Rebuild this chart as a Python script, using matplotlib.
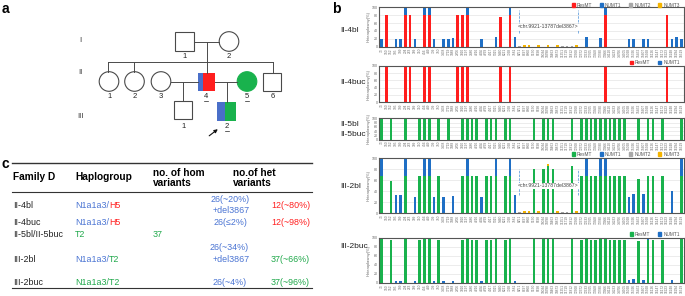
import numpy as np
import matplotlib
matplotlib.use('Agg')
import matplotlib.pyplot as plt
import matplotlib.patches as mpatches

plt.rcParams['font.family'] = ['Liberation Sans', 'DejaVu Sans']

# ---- data ----------------------------------------------------------
positions = ['73', '150', '152', '195', '199', '204', '263', '309', '310', '456',
             '489', '709', '750', '1438', '1719', '1888', '2706', '3010', '3197', '3480',
             '4216', '4336', '4769', '4917', '5315', '5460', '6221', '7028', '7581', '8251',
             '8697', '8860', '9150', '9698', '10034', '10398', '10463', '10873', '11251', '11719',
             '11812', '12308', '12372', '12633', '12705', '13368', '13780', '13966', '14110', '14233',
             '14766', '14905', '15028', '15326', '15452', '15607', '15928', '16126', '16147', '16172',
             '16223', '16248', '16294', '16519']

# II-4bl
bl4_res_idx = [1, 5, 6, 9, 10, 16, 17, 18, 25, 27, 47, 60]
bl4_res_val = [80, 80, 80, 80, 80, 80, 80, 80, 76, 80, 80, 80]
bl4_n1_idx = [0, 3, 4, 5, 7, 9, 10, 11, 13, 14, 15, 18, 21, 24, 27, 28, 43, 46, 47, 52, 53, 55, 56, 61, 62, 63]
bl4_n1_val = [20, 20, 20, 20, 20, 20, 20, 20, 20, 20, 22, 20, 20, 24, 20, 24, 24, 22, 20, 20, 20, 20, 20, 20, 24, 20]
bl4_n2_idx = [29, 38, 39, 40]
bl4_n2_val = [2, 2, 2, 2]
bl4_n3_idx = [30, 31, 33, 35, 37, 41]
bl4_n3_val = [5, 5, 5, 5, 4, 4]

# II-4buc
buc4_res_idx = bl4_res_idx
buc4_res_val = [98, 98, 98, 98, 98, 98, 98, 98, 98, 98, 98, 98]
buc4_n1_idx = [1, 5, 6, 9, 10, 16, 17, 18, 21, 24, 25, 27, 28, 47, 60]
buc4_n1_val = [2, 2, 2, 2, 2, 2, 2, 2, 2, 2, 2, 2, 2, 2, 2]

# II-5bl / II-5buc
t2_idx = [0, 2, 5, 8, 9, 10, 12, 14, 17, 18, 19, 20, 22, 23, 24, 26, 27, 32, 34, 35, 36, 40,
          42, 43, 44, 45, 46, 47, 48, 49, 50, 51, 54, 56, 57, 59, 63]
t2_val = [100] * 37

# III-2bl
bl3_res_idx = [0, 2, 5, 8, 9, 10, 12, 17, 18, 19, 20, 22, 23, 24, 26, 27, 32, 34, 35, 36, 40,
               42, 43, 44, 45, 46, 47, 48, 49, 50, 51, 54, 56, 57, 59, 63]
bl3_res_val = [68, 58, 68, 68, 68, 68, 68, 68, 68, 68, 68, 68, 68, 68, 67, 68, 80, 80, 85, 80, 85,
               68, 68, 68, 68, 68, 68, 68, 68, 68, 68, 62, 68, 68, 68, 68]
bl3_n1_idx = [0, 3, 4, 5, 7, 9, 10, 11, 13, 15, 18, 21, 24, 27, 28, 43, 46, 47, 52, 53, 55, 61, 63]
bl3_n1_val = [32, 33, 33, 32, 30, 32, 32, 30, 29, 31, 32, 30, 32, 32, 33, 32, 32, 32, 29, 34, 34, 40, 32]
bl3_n2_idx = [29, 38, 39]
bl3_n2_val = [2, 2, 2]
bl3_n3_idx = [30, 31, 33, 35, 37, 41]
bl3_n3_val = [5, 5, 5, 4, 5, 4]

# III-2buc
buc3_res_idx = bl3_res_idx
buc3_res_val = [97, 96, 97, 96, 97, 97, 95, 96, 97, 96, 95, 96, 96, 97, 95, 97, 100, 100, 100, 100, 100,
                96, 97, 95, 95, 97, 97, 95, 95, 95, 95, 92, 94, 94, 94, 97]
buc3_n1_idx = [0, 3, 4, 5, 7, 9, 10, 11, 13, 15, 18, 21, 24, 27, 28, 43, 46, 47, 52, 53, 55, 56, 61, 63]
buc3_n1_val = [3, 3, 3, 3, 3, 3, 3, 3, 3, 3, 3, 4, 3, 3, 3, 3, 3, 3, 5, 8, 6, 5, 5, 3]

RED = '#ff1e1e'
BLUE = '#1f6fc5'
GRAY = '#a8a8a8'
GOLD = '#f5b400'
GREEN = '#19b24d'

fig = plt.figure(figsize=(6.85, 2.96), dpi=100)

# overlay axes in pixel coordinates for panel a, c and labels
ov = fig.add_axes([0, 0, 1, 1])
ov.set_xlim(0, 685)
ov.set_ylim(296, 0)
ov.axis('off')

LC = '#4a4a4a'
# ---- panel a: pedigree ---------------------------------------------
ov.text(2, 9, 'a', fontsize=10, fontweight='bold', va='center')
for lab, y in [('I', 41), ('II', 72), ('III', 117)]:
    ov.text(80, y, lab, fontsize=5.5, ha='center', va='center', color='#333333')


def square(cx, cy, s=18):
    ov.add_patch(mpatches.Rectangle((cx - s / 2, cy - s / 2), s, s, fc='white', ec=LC, lw=0.8))


def circle(cx, cy, r=9.8, fc='white', ec=LC):
    ov.add_patch(mpatches.Circle((cx, cy), r, fc=fc, ec=ec, lw=0.8))


def line(x, y):
    ov.plot(x, y, color=LC, lw=0.7)


square(184.5, 41.5, 19)
circle(229, 41.5)
line([194, 219], [41.5, 41.5])
line([207, 207], [41.5, 62])
line([108, 273], [62, 62])
for xx in [108, 134, 273]:
    line([xx, xx], [62, 72])
line([207, 207], [62, 72.5])
circle(109, 81.5)
circle(134.5, 81.5)
circle(161, 81.5)
# II-4
ov.add_patch(mpatches.Rectangle((198, 72.5), 5, 18, fc='#4a6fc9', ec='none'))
ov.add_patch(mpatches.Rectangle((203, 72.5), 12, 18, fc=RED, ec='none'))
circle(247, 81.5, fc=GREEN, ec=GREEN)
square(272, 82)
line([171, 198], [81.5, 81.5])
line([215, 237], [81.5, 81.5])
line([183.5, 183.5], [81.5, 101])
line([227, 227], [81.5, 102])
square(183.5, 110, 18)
ov.add_patch(mpatches.Rectangle((217.5, 102), 8, 18.5, fc='#4a6fc9', ec='none'))
ov.add_patch(mpatches.Rectangle((225.5, 102), 10.5, 18.5, fc=GREEN, ec='none'))
for xx, y, s in [(185, 57, '1'), (229, 57, '2'), (110, 96.5, '1'), (134.5, 96.5, '2'),
                 (161, 96.5, '3'), (206, 96.5, '4'), (247, 96.5, '5'), (273, 96.5, '6'),
                 (184, 127, '1'), (227, 127, '2')]:
    ov.text(xx, y, s, fontsize=5.5, ha='center', va='center', color='#222222')
for xx, y in [(206, 100.5), (247, 100.5), (227, 131)]:
    ov.plot([xx - 2.2, xx + 2.2], [y, y], color='#222222', lw=0.5)
ov.annotate('', xy=(220, 127.5), xytext=(207, 137.5),
            arrowprops=dict(arrowstyle='-|>', color='#111111', lw=0.8, mutation_scale=5))

# ---- panel c: table ------------------------------------------------
CB = '#4a74d3'
CR = '#ff2020'
CG = '#1fa84a'
ov.text(2, 164, 'c', fontsize=10, fontweight='bold', va='center')
ov.plot([12, 312], [163.3, 163.3], color='#333333', lw=1.0)
ov.plot([12, 312], [192.3, 192.3], color='#333333', lw=0.8)
ov.plot([12, 312], [287.5, 287.5], color='#333333', lw=0.8)
hfs = 7.3
ov.text(13, 177.5, 'Family D', fontsize=hfs, fontweight='bold', va='center')
ov.text(75, 177.5, 'Haplogroup', fontsize=hfs, fontweight='bold', va='center')
ov.text(153, 177.5, 'no. of hom\nvariants', fontsize=hfs, fontweight='bold', va='center', linespacing=1.0)
ov.text(233, 177.5, 'no.of het\nvariants', fontsize=hfs, fontweight='bold', va='center', linespacing=1.0)
rfs = 6.4


def t(xx, y, s, c='#222222', ha='left'):
    return ov.text(xx, y, s, fontsize=rfs, color=c, ha=ha, va='center')


def two(xx, y, s1, c1, s2, c2):
    a = t(xx, y, s1, c1)
    fig.canvas.draw()
    bb = a.get_window_extent().transformed(ov.transData.inverted())
    t(bb.x1, y, s2, c2)


t(13, 205, 'II-4bl')
two(75, 205, 'N1a1a3/', CB, 'H5', CR)
t(230, 199, '26(~20%)', CB, 'center')
t(231, 210.5, '+del3867', CB, 'center')
t(310, 205, '12(~80%)', CR, 'right')
t(13, 222.7, 'II-4buc')
two(75, 222.7, 'N1a1a3/', CB, 'H5', CR)
t(230, 222.7, '26(≤2%)', CB, 'center')
t(310, 222.7, '12(~98%)', CR, 'right')
t(13, 234.5, 'II-5bl/II-5buc')
t(75, 234.5, 'T2', CG)
t(153, 234.5, '37', CG)
t(229, 247.3, '26(~34%)', CB, 'center')
t(13, 259, 'III-2bl')
two(75, 259, 'N1a1a3/', CB, 'T2', CG)
t(231, 259, '+del3867', CB, 'center')
t(310, 259, '37(~66%)', CG, 'right')
t(13, 282.3, 'III-2buc')
t(75, 282.3, 'N1a1a3/T2', CG)
t(230, 282.3, '26(~4%)', CB, 'center')
t(310, 282.3, '37(~96%)', CG, 'right')

# ---- panel b: bar charts -------------------------------------------
ov.text(332, 9, 'b', fontsize=10, fontweight='bold', va='center')
for lab, y in [('II-4bl', 31), ('II-4buc', 82), ('II-5bl', 125), ('II-5buc', 135),
               ('III-2bl', 187), ('III-2buc', 246)]:
    ov.text(340, y, lab, fontsize=6, va='center', color='#222222')

W, H = 685.0, 296.0
n = len(positions)
x = np.arange(n)


def panel(top, bottom, series, legend=None, legend_y=None, bracket=None):
    ax = fig.add_axes([379 / W, 1 - bottom / H, 305 / W, (bottom - top) / H])
    base = np.zeros(n)
    for idx, val, col in series:
        h = np.zeros(n)
        h[idx] = val
        ax.bar(x, h, width=0.55, bottom=base, color=col, linewidth=0)
        base = base + h
    ax.set_xlim(-0.55, n - 0.45)
    ax.set_ylim(0, 100)
    ax.set_yticks([0, 20, 40, 60, 80, 100])
    ax.yaxis.grid(True, color='#dddddd', lw=0.4)
    ax.set_axisbelow(True)
    ax.set_xticks(x)
    ax.set_xticklabels(positions, rotation=90, fontsize=2.3, color='#666666')
    ax.tick_params(axis='both', length=0, pad=1)
    ax.tick_params(axis='y', labelsize=2.6, labelcolor='#666666')
    ax.set_ylabel('Heteroplasmy(%)', fontsize=2.9, color='#666666', labelpad=1)
    for sp in ax.spines.values():
        sp.set_color('#555555')
        sp.set_linewidth(0.8)
    if legend:
        handles = [mpatches.Patch(color=c, label=l) for l, c in legend]
        ax.legend(handles=handles, ncol=len(handles), fontsize=3.4, frameon=False,
                  loc='center right', bbox_to_anchor=(682 / W, 1 - legend_y / H),
                  bbox_transform=fig.transFigure, handlelength=0.7, handleheight=0.7,
                  columnspacing=1.6, handletextpad=0.4, borderpad=0, labelcolor='#555555')
    if bracket:
        y0, y1, yt = bracket
        ax.plot([28.8, 28.8], [y0, y1], ls='--', color='#4a8fd8', lw=0.5)
        ax.plot([41.2, 41.2], [y0, y1], ls='--', color='#4a8fd8', lw=0.5)
        ax.text(35, yt, '<chr.9921-13787del3867>', fontsize=3.7, ha='center', va='center',
                color='#444444', bbox=dict(fc='white', ec='none', pad=0.3))
    return ax


full_leg_red = [('ResMT', RED), ('NUMT1', BLUE), ('NUMT2', GRAY), ('NUMT3', GOLD)]
full_leg_green = [('ResMT', GREEN), ('NUMT1', BLUE), ('NUMT2', GRAY), ('NUMT3', GOLD)]

panel(7.3, 46.7, [(bl4_res_idx, bl4_res_val, RED), (bl4_n1_idx, bl4_n1_val, BLUE),
                  (bl4_n2_idx, bl4_n2_val, GRAY), (bl4_n3_idx, bl4_n3_val, GOLD)],
      full_leg_red, 5.2, bracket=(35, 93, 50))
panel(65.7, 102.3, [(buc4_res_idx, buc4_res_val, RED), (buc4_n1_idx, buc4_n1_val, BLUE)],
      [('ResMT', RED), ('NUMT1', BLUE)], 62.5)
panel(118.3, 139.5, [(t2_idx, t2_val, GREEN)])
panel(158, 213.3, [(bl3_res_idx, bl3_res_val, GREEN), (bl3_n1_idx, bl3_n1_val, BLUE),
                   (bl3_n2_idx, bl3_n2_val, GRAY), (bl3_n3_idx, bl3_n3_val, GOLD)],
      full_leg_green, 154, bracket=(33, 80, 50))
panel(237.7, 282.7, [(buc3_res_idx, buc3_res_val, GREEN), (buc3_n1_idx, buc3_n1_val, BLUE)],
      [('ResMT', GREEN), ('NUMT1', BLUE)], 234)

fig.savefig('out.png', dpi=100)
